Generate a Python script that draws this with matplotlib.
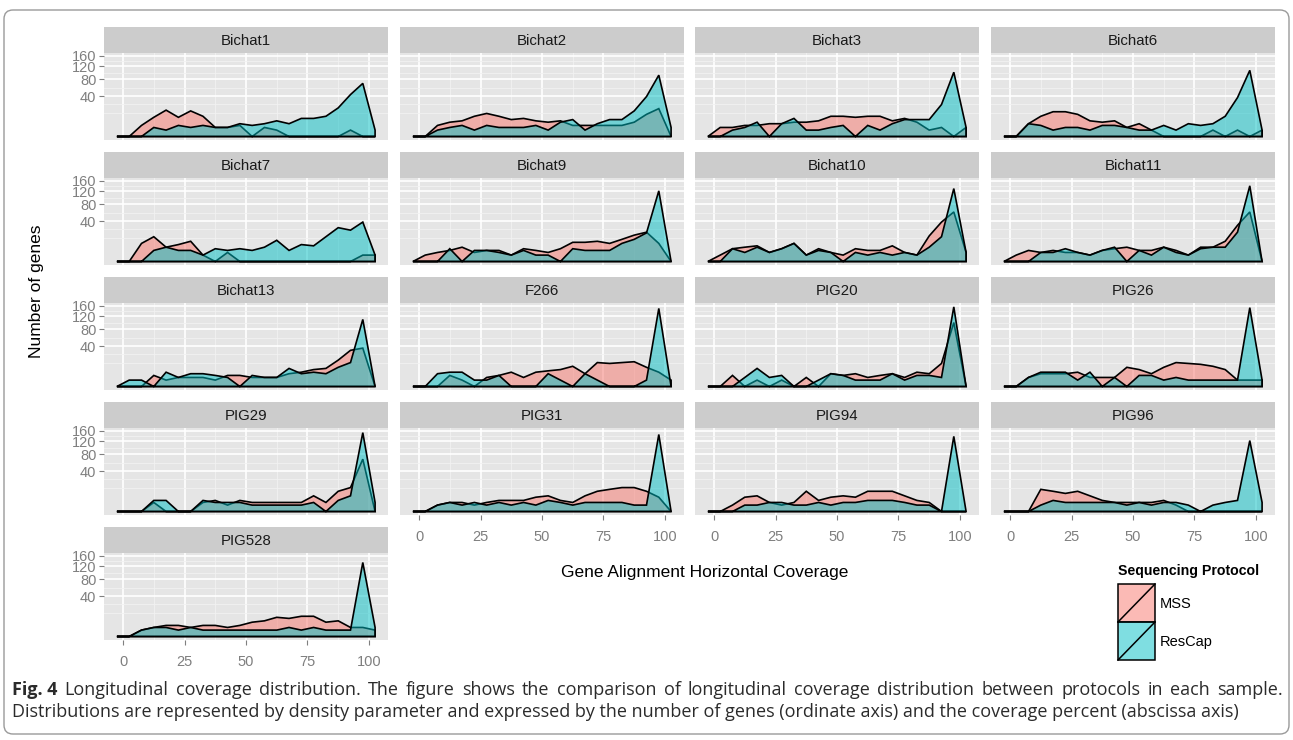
import numpy as np
import matplotlib
matplotlib.use("Agg")
import matplotlib.pyplot as plt
from matplotlib.patches import Polygon, Rectangle, FancyBboxPatch
from matplotlib.colors import to_rgb

plt.rcParams['font.family'] = ['Liberation Sans', 'DejaVu Sans']

# bin centres of the coverage histogram (%)
coverage = np.arange(-2.5, 105, 5)

# number of genes per coverage bin
bichat1_mss = [0, 0, 3, 9, 17, 9, 16, 10, 2, 2, 3, 0, 2, 1, 0, 0, 0, 0, 0, 1, 0, 0]
bichat1_rescap = [0, 0, 0, 2, 1, 3, 2, 3, 2, 2, 4, 3, 4, 6, 4, 8, 8, 10, 20, 43, 69, 1]
bichat2_mss = [0, 0, 3, 5, 6, 10, 13, 10, 7, 8, 6, 5, 6, 3, 3, 3, 3, 3, 5, 12, 19, 0]
bichat2_rescap = [0, 0, 1, 2, 3, 1, 3, 2, 2, 2, 3, 1, 5, 7, 1, 4, 7, 7, 16, 39, 92, 2]
bichat3_mss = [0, 2, 2, 3, 3, 4, 4, 5, 5, 6, 10, 10, 9, 10, 10, 6, 8, 5, 1, 2, 0, 2]
bichat3_rescap = [0, 0, 1, 2, 5, 0, 4, 8, 1, 1, 2, 3, 0, 3, 1, 4, 7, 7, 7, 25, 101, 2]
bichat6_mss = [0, 0, 4, 10, 15, 15, 12, 6, 5, 6, 2, 4, 1, 0, 0, 0, 0, 1, 0, 1, 0, 1]
bichat6_rescap = [0, 0, 4, 3, 1, 2, 2, 1, 3, 3, 2, 1, 1, 3, 1, 4, 3, 4, 10, 37, 107, 1]
bichat7_mss = [0, 0, 8, 15, 5, 7, 10, 1, 0, 2, 0, 0, 0, 0, 0, 0, 0, 0, 0, 0, 1, 1]
bichat7_rescap = [0, 0, 0, 3, 5, 3, 3, 1, 4, 3, 4, 3, 5, 11, 3, 7, 6, 15, 28, 24, 38, 1]
bichat9_mss = [0, 1, 2, 3, 5, 2, 3, 3, 1, 4, 3, 2, 4, 9, 9, 10, 8, 12, 17, 21, 8, 0]
bichat9_rescap = [0, 0, 0, 4, 0, 3, 3, 2, 1, 3, 1, 1, 0, 4, 3, 3, 3, 8, 12, 20, 122, 0]
bichat10_mss = [0, 1, 4, 5, 6, 2, 4, 8, 1, 4, 2, 1, 4, 3, 3, 6, 2, 1, 16, 38, 60, 2]
bichat10_rescap = [0, 0, 4, 2, 5, 2, 4, 8, 1, 3, 2, 0, 2, 1, 2, 1, 2, 1, 5, 15, 130, 2]
bichat11_mss = [0, 1, 3, 2, 3, 2, 2, 1, 3, 4, 5, 3, 3, 5, 3, 1, 5, 5, 10, 32, 60, 0]
bichat11_rescap = [0, 0, 0, 2, 2, 4, 2, 1, 3, 5, 0, 3, 1, 5, 2, 1, 4, 5, 5, 21, 140, 0]
bichat13_mss = [0, 0, 0, 3, 1, 2, 2, 2, 1, 3, 3, 2, 2, 2, 4, 5, 7, 8, 17, 32, 36, 0]
bichat13_rescap = [0, 1, 1, 0, 5, 2, 4, 4, 3, 2, 0, 3, 2, 2, 8, 4, 5, 4, 9, 14, 110, 0]
f266_mss = [0, 0, 0, 3, 1, 0, 2, 3, 5, 2, 5, 6, 7, 10, 4, 14, 13, 14, 15, 9, 5, 1]
f266_rescap = [0, 0, 4, 5, 5, 1, 1, 3, 0, 0, 0, 4, 1, 0, 4, 1, 0, 0, 0, 1, 149, 0]
pig20_mss = [0, 0, 3, 0, 1, 0, 1, 0, 2, 0, 4, 3, 4, 2, 3, 4, 2, 5, 4, 13, 100, 0]
pig20_rescap = [0, 0, 0, 2, 8, 2, 3, 0, 0, 1, 4, 3, 1, 1, 1, 4, 1, 3, 3, 2, 155, 0]
pig26_mss = [0, 0, 2, 4, 4, 4, 5, 2, 2, 2, 9, 7, 4, 9, 14, 13, 12, 10, 7, 1, 1, 1]
pig26_rescap = [0, 0, 2, 5, 5, 5, 1, 5, 0, 2, 0, 3, 3, 1, 2, 1, 1, 1, 1, 1, 152, 1]
pig29_mss = [0, 0, 0, 2, 0, 0, 0, 2, 3, 1, 3, 2, 2, 2, 2, 2, 6, 2, 10, 14, 67, 0]
pig29_rescap = [0, 0, 0, 3, 3, 0, 0, 3, 2, 2, 2, 1, 1, 1, 1, 1, 2, 0, 3, 6, 152, 2]
pig31_mss = [0, 0, 1, 2, 2, 1, 2, 3, 3, 3, 5, 6, 3, 2, 6, 10, 12, 14, 14, 10, 5, 0]
pig31_rescap = [0, 0, 1, 2, 1, 2, 1, 2, 1, 2, 1, 3, 2, 1, 2, 2, 2, 2, 1, 1, 145, 0]
pig94_mss = [0, 0, 1, 5, 6, 2, 1, 2, 10, 3, 5, 6, 5, 10, 10, 10, 6, 3, 2, 0, 0, 0]
pig94_rescap = [0, 0, 0, 1, 1, 2, 2, 1, 1, 2, 1, 2, 2, 3, 3, 3, 2, 1, 1, 0, 138, 0]
pig96_mss = [0, 0, 0, 12, 10, 8, 10, 6, 3, 2, 2, 2, 2, 3, 1, 0, 0, 0, 0, 0, 0, 0]
pig96_rescap = [0, 0, 0, 1, 3, 2, 2, 2, 2, 2, 1, 2, 1, 2, 2, 1, 0, 1, 2, 3, 123, 2]
pig528_mss = [0, 0, 1, 2, 3, 3, 2, 3, 3, 2, 3, 5, 6, 9, 8, 10, 10, 5, 6, 2, 2, 1]
pig528_rescap = [0, 0, 1, 2, 2, 1, 2, 1, 1, 1, 1, 1, 1, 1, 2, 1, 2, 1, 1, 1, 134, 2]

samples = [
    ('Bichat1', bichat1_mss, bichat1_rescap),
    ('Bichat2', bichat2_mss, bichat2_rescap),
    ('Bichat3', bichat3_mss, bichat3_rescap),
    ('Bichat6', bichat6_mss, bichat6_rescap),
    ('Bichat7', bichat7_mss, bichat7_rescap),
    ('Bichat9', bichat9_mss, bichat9_rescap),
    ('Bichat10', bichat10_mss, bichat10_rescap),
    ('Bichat11', bichat11_mss, bichat11_rescap),
    ('Bichat13', bichat13_mss, bichat13_rescap),
    ('F266', f266_mss, f266_rescap),
    ('PIG20', pig20_mss, pig20_rescap),
    ('PIG26', pig26_mss, pig26_rescap),
    ('PIG29', pig29_mss, pig29_rescap),
    ('PIG31', pig31_mss, pig31_rescap),
    ('PIG94', pig94_mss, pig94_rescap),
    ('PIG96', pig96_mss, pig96_rescap),
    ('PIG528', pig528_mss, pig528_rescap),
]

protocols = ['MSS', 'ResCap']
colors = ['#F8766D', '#00BFC4']
y_breaks = [40, 80, 120, 160]
x_breaks = [0, 25, 50, 75, 100]

caption_1 = ('Longitudinal coverage distribution. The figure shows the comparison of '
             'longitudinal coverage distribution between protocols in each sample.')
caption_2 = ('Distributions are represented by density parameter and expressed by the '
             'number of genes (ordinate axis) and the coverage percent (abscissa axis)')

W, H = 1293, 740
fig = plt.figure(figsize=(W / 100, H / 100), dpi=100)


def rect(left, top, width, height):
    # pixel box (from top-left) -> figure fraction
    return [left / W, 1 - (top + height) / H, width / W, height / H]


def fwd(y):
    y = np.asarray(y, dtype=float)
    return np.sign(y) * np.sqrt(np.abs(y))


def inv(y):
    y = np.asarray(y, dtype=float)
    return np.sign(y) * y ** 2


# minor breaks halfway between majors in sqrt space (like ggplot)
sb = np.sqrt(y_breaks)
sb_ext = np.concatenate([[sb[0] - (sb[1] - sb[0])], sb])
y_minor = ((sb_ext[:-1] + sb_ext[1:]) / 2) ** 2
y_minor = np.concatenate([[sb_ext[0] ** 2], y_minor])

col_left = [104, 400, 695, 991]
col_w = 284
row_top = [53, 178, 303, 428, 553]
panel_h = 87
strip_h = 26
bottom_of_col = {16, 13, 14, 15}

for k, (name, mss, rescap) in enumerate(samples):
    r, c = divmod(k, 4)
    left, top = col_left[c], row_top[r]

    sax = fig.add_axes(rect(left, top - strip_h, col_w, strip_h))
    sax.set_facecolor('#CCCCCC')
    sax.set_xticks([])
    sax.set_yticks([])
    for s in sax.spines.values():
        s.set_visible(False)
    sax.text(0.5, 0.45, name, ha='center', va='center', fontsize=10.8,
             color='#1A1A1A', transform=sax.transAxes)

    ax = fig.add_axes(rect(left, top, col_w, panel_h))
    ax.set_facecolor('#E5E5E5')
    for s in ax.spines.values():
        s.set_visible(False)
    ax.set_yscale('function', functions=(fwd, inv))
    ax.set_xlim(-7.75, 107.75)
    ax.set_ylim(-0.3, 170.5)

    ax.set_yticks(y_breaks)
    ax.set_yticks(y_minor, minor=True)
    ax.set_xticks(x_breaks)
    ax.set_xticks([12.5, 37.5, 62.5, 87.5], minor=True)
    ax.yaxis.set_minor_formatter(plt.NullFormatter())
    ax.xaxis.set_minor_formatter(plt.NullFormatter())
    ax.grid(which='major', color='white', lw=1.2)
    ax.grid(which='minor', color='#F2F2F2', lw=0.6)
    ax.set_axisbelow(True)
    ax.tick_params(which='minor', length=0)
    ax.tick_params(which='major', colors='#7F7F7F', labelsize=10.5,
                   length=3.5, width=0.8)
    ax.tick_params(axis='y', pad=2)
    ax.tick_params(axis='x', pad=7)
    if c != 0:
        ax.tick_params(axis='y', left=False, labelleft=False)
    if k not in bottom_of_col:
        ax.tick_params(axis='x', bottom=False, labelbottom=False)

    for vals, col in zip((mss, rescap), colors):
        verts = [(coverage[0], 0)] + list(zip(coverage, vals)) + [(coverage[-1], 0)]
        ax.add_patch(Polygon(verts, closed=True, facecolor=(*to_rgb(col), 0.5),
                             edgecolor='black', lw=1.2, zorder=3))

# overlay in pixel coordinates for titles, legend, caption and frame
ov = fig.add_axes([0, 0, 1, 1], zorder=-1)
ov.set_xlim(0, W)
ov.set_ylim(H, 0)
ov.axis('off')

ov.add_patch(FancyBboxPatch((4, 10), 1285, 724,
                            boxstyle='round,pad=0,rounding_size=9',
                            fill=False, edgecolor='#9A9A9A', lw=1.0))

ov.text(37, 291, 'Number of genes', rotation=90, ha='center', va='center',
        fontsize=12.5, color='black')
ov.text(705, 573, 'Gene Alignment Horizontal Coverage', ha='center',
        va='center', fontsize=12.5, color='black')

# legend
ov.text(1118, 571, 'Sequencing Protocol', ha='left', va='center',
        fontsize=10.2, fontweight='bold', color='black')
for i, (lab, col) in enumerate(zip(protocols, colors)):
    y0 = 584 + i * 38
    ov.add_patch(Rectangle((1118, y0), 37, 38, facecolor=(*to_rgb(col), 0.5),
                           edgecolor='black', lw=1.1))
    ov.plot([1118, 1155], [y0 + 38, y0], color='black', lw=1.1)
    ov.text(1160, y0 + 20, lab, ha='left', va='center', fontsize=10.5,
            color='black')

# caption: first line justified between x=12 and x=1283
cap_col = '#2B2B2B'
cap_font = ['Open Sans', 'DejaVu Sans']
renderer = fig.canvas.get_renderer()
words = [('Fig. 4', 'bold')] + [(w, 'normal') for w in caption_1.split()]
arts = []
for w, fw in words:
    arts.append(ov.text(0, 690, w, ha='left', va='center', fontsize=13,
                        fontweight=fw, color=cap_col, family=cap_font))
widths = [a.get_window_extent(renderer).width for a in arts]
gap = (1283 - 12 - sum(widths)) / (len(words) - 1)
x = 12.0
for a, wd in zip(arts, widths):
    a.set_x(x)
    x += wd + gap
ov.text(12, 712, caption_2, ha='left', va='center', fontsize=13,
        color=cap_col, family=cap_font)

fig.savefig('out.png', dpi=100)
